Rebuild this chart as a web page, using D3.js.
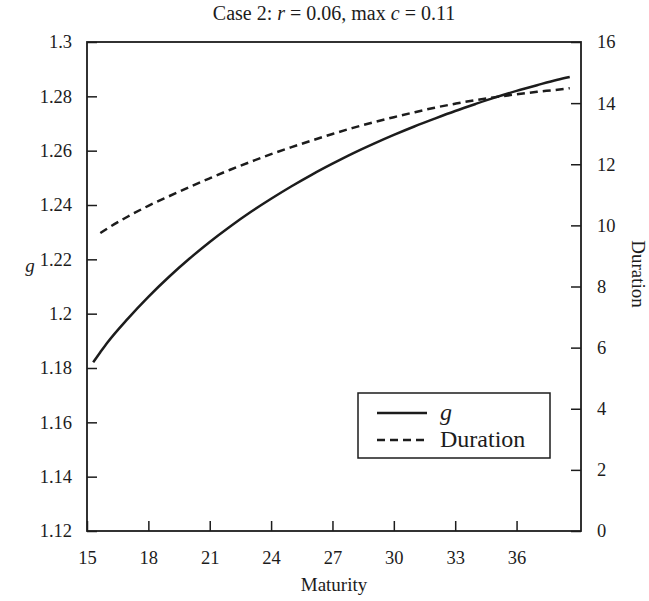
<!DOCTYPE html>
<html>
<head>
<meta charset="utf-8">
<script src="https://cdn.jsdelivr.net/npm/d3@7"></script>
<style>
  body { margin: 0; background: #fff; }
  svg text { font-family: "Liberation Serif", "Times New Roman", serif; fill: #1c1c1c; }
</style>
</head>
<body>
<div id="chart"></div>
<script>
(function () {

// data (null = no point for that series)
var maturity = [15.3, 15.65, 16, 17, 18, 19, 20, 21, 22, 23, 24, 25, 26, 27, 28, 29, 30,
                31, 32, 33, 34, 35, 36, 37, 38, 38.6]
var gValues = [1.1821, 1.1858, 1.1894, 1.1982, 1.2062, 1.2135, 1.2202, 1.2264, 1.2321, 1.2374,
               1.2423, 1.2469, 1.2512, 1.2552, 1.259, 1.2625, 1.2658, 1.2689, 1.2718, 1.2746,
               1.2772, 1.2797, 1.282, 1.2841, 1.2861, 1.2871]
var durationValues = [null, 9.75, 9.9, 10.29, 10.64, 10.95, 11.25, 11.54, 11.82, 12.08,
                      12.33, 12.56, 12.78, 12.99, 13.19, 13.37, 13.54, 13.7, 13.85, 13.98,
                      14.1, 14.2, 14.29, 14.37, 14.44, 14.49]

var xTicks = [15, 18, 21, 24, 27, 30, 33, 36]
var gTicks = [1.12, 1.14, 1.16, 1.18, 1.2, 1.22, 1.24, 1.26, 1.28, 1.3]
var durationTicks = [0, 2, 4, 6, 8, 10, 12, 14, 16]
var legendLabels = ['g', 'Duration']

var W = 649, H = 601
var margin = { top: 42, right: 68, bottom: 70, left: 87 }
var width = W - margin.left - margin.right,
    height = H - margin.top - margin.bottom
var ink = '#1c1c1c'

var svg = d3.select('#chart').append('svg')
    .attr('width', W)
    .attr('height', H)

var g = svg.append('g')
    .attr('transform', 'translate(' + margin.left + ',' + margin.top + ')')

var xScale = d3.scaleLinear().domain([15, 39.15]).range([0, width])
var gScale = d3.scaleLinear().domain([1.12, 1.3]).range([height, 0])
var dScale = d3.scaleLinear().domain([0, 16]).range([height, 0])

// axes, ticks point inward
var xAxis = d3.axisBottom(xScale).tickValues(xTicks)
    .tickSizeInner(-10).tickSizeOuter(0).tickPadding(20)
var gAxis = d3.axisLeft(gScale).tickValues(gTicks)
    .tickSizeInner(-10).tickSizeOuter(0).tickPadding(15)
    .tickFormat(function (d) { return String(+d.toFixed(2)) })
var dAxis = d3.axisRight(dScale).tickValues(durationTicks)
    .tickSizeInner(-10).tickSizeOuter(0).tickPadding(16)

g.append('g').attr('class', 'axis x-axis')
    .attr('transform', 'translate(0,' + height + ')')
    .call(xAxis)
g.append('g').attr('class', 'axis g-axis').call(gAxis)
g.append('g').attr('class', 'axis d-axis')
    .attr('transform', 'translate(' + width + ',0)')
    .call(dAxis)

svg.selectAll('.axis .domain').remove()
svg.selectAll('.axis line').attr('stroke', ink).attr('stroke-width', 1.5)
svg.selectAll('.axis text')
    .attr('font-size', 18.5)
    .attr('font-family', '"Liberation Serif", serif')
    .attr('fill', ink)

// frame
g.append('rect')
    .attr('x', 0).attr('y', 0)
    .attr('width', width).attr('height', height)
    .attr('fill', 'none')
    .attr('stroke', ink)
    .attr('stroke-width', 1.8)

var rows = maturity.map(function (m, i) {
  return { m: m, g: gValues[i], d: durationValues[i] }
})

var gLine = d3.line()
    .curve(d3.curveMonotoneX)
    .x(function (d) { return xScale(d.m) })
    .y(function (d) { return gScale(d.g) })
var dLine = d3.line()
    .curve(d3.curveMonotoneX)
    .x(function (d) { return xScale(d.m) })
    .y(function (d) { return dScale(d.d) })

g.append('path')
    .datum(rows)
    .attr('d', gLine)
    .attr('fill', 'none')
    .attr('stroke', ink)
    .attr('stroke-width', 2.5)

g.append('path')
    .datum(rows.filter(function (d) { return d.d != null }))
    .attr('d', dLine)
    .attr('fill', 'none')
    .attr('stroke', ink)
    .attr('stroke-width', 2.5)
    .attr('stroke-dasharray', '8,5')

// title
var title = svg.append('text')
    .attr('x', margin.left + width / 2)
    .attr('y', 20)
    .attr('text-anchor', 'middle')
    .attr('font-size', 20)
title.append('tspan').text('Case 2: ')
title.append('tspan').attr('font-style', 'italic').text('r')
title.append('tspan').text(' = 0.06, max ')
title.append('tspan').attr('font-style', 'italic').text('c')
title.append('tspan').text(' = 0.11')

// axis titles
svg.append('text')
    .text('Maturity')
    .attr('x', margin.left + width / 2)
    .attr('y', 591)
    .attr('text-anchor', 'middle')
    .attr('font-size', 19)

svg.append('text')
    .text('g')
    .attr('font-style', 'italic')
    .attr('x', 30)
    .attr('y', 272)
    .attr('text-anchor', 'middle')
    .attr('font-size', 19)

svg.append('text')
    .text('Duration')
    .attr('transform', 'translate(632,274) rotate(90)')
    .attr('text-anchor', 'middle')
    .attr('font-size', 19)

// legend
var legend = svg.append('g').attr('transform', 'translate(358,393)')
legend.append('rect')
    .attr('width', 192).attr('height', 65)
    .attr('fill', '#fff')
    .attr('stroke', ink)
    .attr('stroke-width', 1.5)

legendLabels.forEach(function (label, i) {
  var y = 20 + i * 27
  legend.append('line')
    .attr('x1', 19).attr('x2', 69)
    .attr('y1', y).attr('y2', y)
    .attr('stroke', ink)
    .attr('stroke-width', 2.5)
    .attr('stroke-dasharray', i === 1 ? '8,5' : null)
  legend.append('text')
    .text(label)
    .attr('x', 82)
    .attr('y', y + 7)
    .attr('font-size', 24)
    .attr('font-style', i === 0 ? 'italic' : 'normal')
})

})()
</script>
</body>
</html>
